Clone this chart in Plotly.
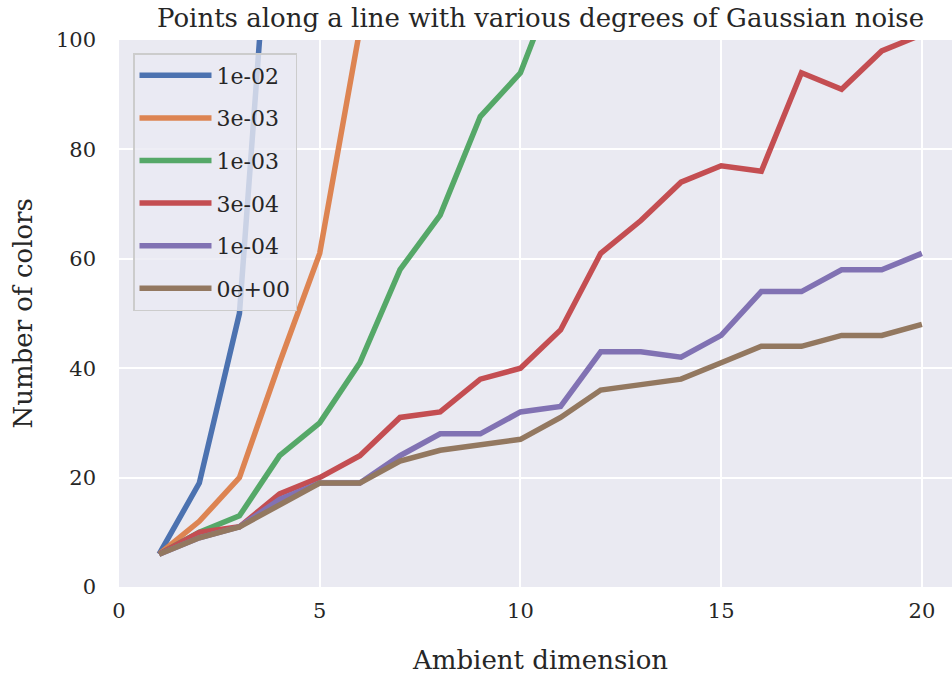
import plotly.graph_objects as go

dims = list(range(1, 21))
noise_labels = ["1e-02", "3e-03", "1e-03", "3e-04", "1e-04", "0e+00"]
colors = ["#4C72B0", "#DD8452", "#55A868", "#C44E52", "#8172B3", "#937860"]

s_1e02 = [6, 19, 50, 150]
s_3e03 = [6, 12, 20, 41, 61, 102]
s_1e03 = [6, 10, 13, 24, 30, 41, 58, 68, 86, 94, 113]
s_3e04 = [6, 10, 11, 17, 20, 24, 31, 32, 38, 40, 47, 61, 67, 74, 77, 76, 94, 91, 98, 101]
s_1e04 = [6, 9, 11, 16, 19, 19, 24, 28, 28, 32, 33, 43, 43, 42, 46, 54, 54, 58, 58, 61]
s_0 = [6, 9, 11, 15, 19, 19, 23, 25, 26, 27, 31, 36, 37, 38, 41, 44, 44, 46, 46, 48]

series = [s_1e02, s_3e03, s_1e03, s_3e04, s_1e04, s_0]

FONT = "DejaVu Serif"
W, H = 952, 679
L, R, T, B = 119, 0, 40, 92
XMAX = 20.75

fig = go.Figure()
for i, (lab, col, vals) in enumerate(zip(noise_labels, colors, series)):
    fig.add_trace(go.Scatter(
        x=dims[:len(vals)], y=vals, mode="lines", name=lab,
        line=dict(color=col, width=5.5), legendgroup=f"g{i}",
    ))

pw = W - L - R
ph = H - T - B
cx = (540 - L) / pw

fig.update_layout(
    width=W, height=H,
    margin=dict(l=L, r=R, t=T, b=B),
    paper_bgcolor="white",
    plot_bgcolor="#EAEAF2",
    font=dict(family=FONT, size=20, color="#262626"),
    showlegend=True,
    legend=dict(
        x=(133 - L) / pw, y=1 - (53 - T) / ph,
        xanchor="left", yanchor="top",
        bgcolor="rgba(234,234,242,0.8)",
        bordercolor="#CCCCCC", borderwidth=1.5,
        font=dict(family=FONT, size=22, color="#262626"),
        tracegroupgap=11,
        itemwidth=72,
    ),
    xaxis=dict(
        range=[0, XMAX], tickvals=[0, 5, 10, 15, 20],
        showgrid=True, gridcolor="white", gridwidth=2,
        zeroline=False, showline=False, ticks="",
        ticklabelstandoff=9,
        tickfont=dict(family=FONT, size=21, color="#262626"),
    ),
    yaxis=dict(
        range=[0, 100], tickvals=[0, 20, 40, 60, 80, 100],
        showgrid=True, gridcolor="white", gridwidth=2,
        zeroline=False, showline=False, ticks="",
        ticklabelstandoff=22,
        tickfont=dict(family=FONT, size=21, color="#262626"),
    ),
    annotations=[
        dict(text="Points along a line with various degrees of Gaussian noise",
             xref="paper", yref="paper", x=cx, y=1, yshift=22,
             xanchor="center", yanchor="middle", showarrow=False,
             font=dict(family=FONT, size=26, color="#262626")),
        dict(text="Ambient dimension",
             xref="paper", yref="paper", x=cx, y=0, yshift=-73,
             xanchor="center", yanchor="middle", showarrow=False,
             font=dict(family=FONT, size=26, color="#262626")),
        dict(text="Number of colors",
             xref="paper", yref="paper", x=0, xshift=-(L - 22), y=0.5,
             xanchor="center", yanchor="middle", showarrow=False, textangle=-90,
             font=dict(family=FONT, size=26, color="#262626")),
    ],
)

fig.write_html("out.html",
               config={"displayModeBar": False},
               post_script="document.body.style.margin='0';document.body.style.overflow='hidden';")
